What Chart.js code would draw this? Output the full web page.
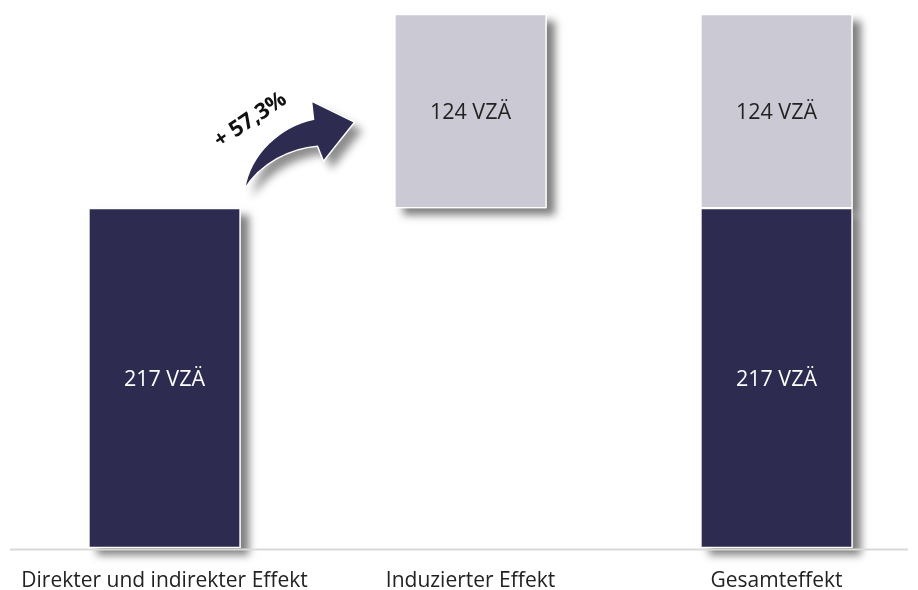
<!DOCTYPE html>
<html lang="de">
<head>
<meta charset="utf-8">
<script src="https://cdn.jsdelivr.net/npm/chart.js@4.4.1/dist/chart.umd.min.js"></script>
<style>
  html, body { margin: 0; padding: 0; background: #fff; }
  #wrap { width: 918px; height: 590px; }
</style>
</head>
<body>
<div id="wrap"><canvas id="effectChart"></canvas></div>
<script>
  // categories and values (VZÄ)
  const labels = ["Direkter und indirekter Effekt", "Induzierter Effekt", "Gesamteffekt"];
  const direct = [217, null, 217];
  const induced = [null, 124, 124];
  const growthText = "+ 57,3%";

  const navy = "#2d2b50";
  const grey = "#cbcad4";

  // induced bars float on top of the direct effect
  const inducedBars = induced.map(v => (v == null ? null : [direct[0], direct[0] + v]));
  const directBars = direct.map(v => (v == null ? null : [0, v]));

  // drop shadows under the bars, base line, labels and arrow
  const decoPlugin = {
    id: "deco",
    beforeDatasetsDraw(chart) {
      const ctx = chart.ctx;
      ctx.save();
      ctx.shadowColor = "rgba(0,0,0,0.5)";
      ctx.shadowBlur = 8;
      ctx.shadowOffsetX = 8;
      ctx.shadowOffsetY = 7;
      ctx.fillStyle = "#fff";
      chart.data.datasets.forEach((ds, i) => {
        chart.getDatasetMeta(i).data.forEach((bar, j) => {
          if (ds.data[j] == null) return;
          const p = bar.getProps(["x", "y", "base", "width"], true);
          ctx.fillRect(p.x - p.width / 2, Math.min(p.y, p.base), p.width, Math.abs(p.base - p.y));
        });
      });
      ctx.restore();
      // base line
      const y0 = chart.scales.y.getPixelForValue(0) + 1.5;
      ctx.save();
      ctx.strokeStyle = "#d9d9d9";
      ctx.lineWidth = 2;
      ctx.beginPath();
      ctx.moveTo(10, y0);
      ctx.lineTo(chart.width - 10, y0);
      ctx.stroke();
      ctx.restore();
    },
    afterDatasetsDraw(chart) {
      const ctx = chart.ctx;
      // value labels in the middle of each bar
      ctx.save();
      ctx.font = "21.5px 'Open Sans'";
      ctx.textAlign = "center";
      ctx.textBaseline = "middle";
      chart.data.datasets.forEach((ds, i) => {
        chart.getDatasetMeta(i).data.forEach((bar, j) => {
          const raw = ds.data[j];
          if (raw == null) return;
          const p = bar.getProps(["x", "y", "base"], true);
          ctx.fillStyle = i === 0 ? "#ffffff" : "#222222";
          ctx.fillText((raw[1] - raw[0]) + " VZÄ", p.x, (p.y + p.base) / 2 + 2);
        });
      });

      // curved arrow from first bar towards the induced bar
      const b = chart.getDatasetMeta(0).data[0].getProps(["x", "y", "width"], true);
      const x0 = b.x + b.width / 2;
      const y0 = b.y;
      ctx.shadowColor = "rgba(0,0,0,0.45)";
      ctx.shadowBlur = 9;
      ctx.shadowOffsetX = 8;
      ctx.shadowOffsetY = 8;
      ctx.fillStyle = navy;
      ctx.strokeStyle = "#fff";
      ctx.lineWidth = 1.5;
      ctx.beginPath();
      ctx.moveTo(x0 + 4, y0 - 19);
      ctx.bezierCurveTo(x0 + 10, y0 - 55, x0 + 40, y0 - 82, x0 + 73, y0 - 89);
      ctx.lineTo(x0 + 71, y0 - 107);
      ctx.lineTo(x0 + 114, y0 - 86);
      ctx.lineTo(x0 + 83, y0 - 47);
      ctx.lineTo(x0 + 77, y0 - 62);
      ctx.bezierCurveTo(x0 + 50, y0 - 60, x0 + 20, y0 - 45, x0 + 4, y0 - 19);
      ctx.closePath();
      ctx.fill();
      ctx.shadowColor = "transparent";
      ctx.stroke();

      // growth label
      ctx.translate(x0 + 10, y0 - 88);
      ctx.rotate(-34 * Math.PI / 180);
      ctx.font = "bold 22px 'Open Sans'";
      ctx.fillStyle = "#111";
      ctx.fillText(growthText, 0, 0);
      ctx.restore();
    }
  };

  const ctx = document.getElementById("effectChart").getContext("2d");
  new Chart(ctx, {
    type: "bar",
    data: {
      labels: labels,
      datasets: [
        {
          label: "Direkter und indirekter Effekt",
          data: directBars,
          backgroundColor: navy,
          borderColor: "#fff",
          borderWidth: 1.5,
          borderSkipped: false,
          grouped: false,
          clip: false,
          barThickness: 152
        },
        {
          label: "Induzierter Effekt",
          data: inducedBars,
          backgroundColor: grey,
          borderColor: "#fff",
          borderWidth: 1.5,
          borderSkipped: false,
          grouped: false,
          clip: false,
          barThickness: 152
        }
      ]
    },
    options: {
      responsive: true,
      maintainAspectRatio: false,
      animation: false,
      layout: { padding: { left: 164.5, right: 141.5, top: 14, bottom: 0 } },
      plugins: {
        legend: { display: false },
        tooltip: { enabled: false }
      },
      scales: {
        x: {
          offset: false,
          grid: { display: false, drawTicks: false },
          border: { display: false },
          afterFit: scale => { scale.height = 42; },
          ticks: {
            padding: 20,
            maxRotation: 0,
            autoSkip: false,
            color: "#222",
            font: { family: "'Open Sans'", size: 21 }
          }
        },
        y: {
          display: false,
          min: 0,
          max: 341
        }
      }
    },
    plugins: [decoPlugin]
  });
</script>
</body>
</html>
